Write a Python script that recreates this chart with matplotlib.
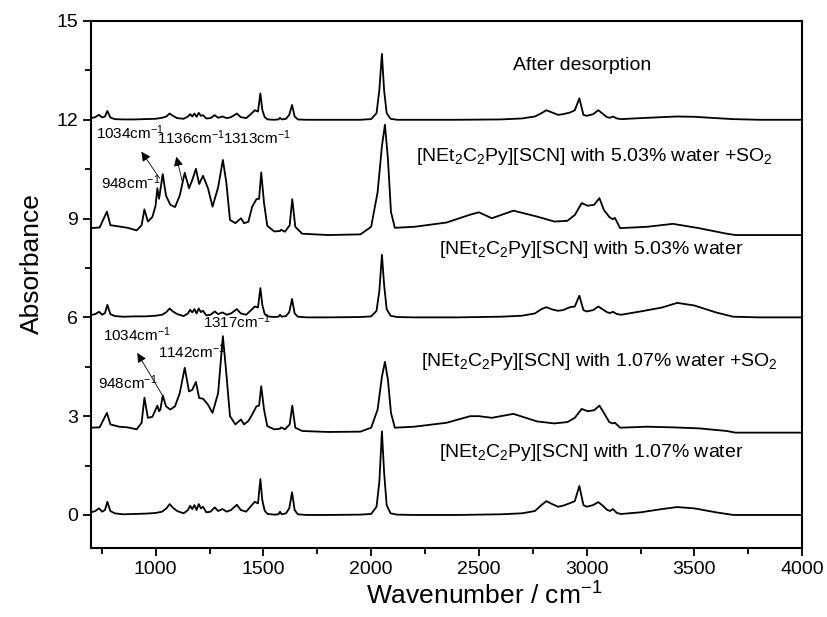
import matplotlib
matplotlib.use("Agg")
import matplotlib.pyplot as plt
from matplotlib.ticker import MultipleLocator

plt.rcParams['font.family'] = ['Liberation Sans', 'DejaVu Sans']
plt.rcParams['mathtext.fontset'] = 'custom'
plt.rcParams['mathtext.rm'] = 'Liberation Sans'
plt.rcParams['mathtext.it'] = 'Liberation Sans:italic'
plt.rcParams['mathtext.bf'] = 'Liberation Sans:bold'

# wavenumber grid shared by the three spectra without SO2
wn_base = [700, 720, 737, 752, 765, 776, 790, 810, 850, 900,
           950, 1000, 1030, 1050, 1065, 1080, 1100, 1130, 1150, 1160,
           1170, 1180, 1190, 1200, 1210, 1220, 1235, 1255, 1274, 1290,
           1310, 1330, 1350, 1377, 1395, 1420, 1440, 1460, 1475, 1486,
           1495, 1506, 1520, 1550, 1570, 1577, 1585, 1605, 1620, 1633,
           1645, 1660, 1700, 1800, 1950, 2000, 2025, 2038, 2050, 2060,
           2072, 2090, 2120, 2200, 2400, 2600, 2700, 2760, 2790, 2813,
           2840, 2867, 2890, 2923, 2945, 2966, 2985, 3000, 3030, 3054,
           3075, 3094, 3108, 3122, 3140, 3160, 3250, 3350, 3420, 3500,
           3600, 3680, 3800, 4000]

abs_107 = [0.08, 0.12, 0.20, 0.10, 0.15, 0.40, 0.12, 0.05, 0.02, 0.03,
           0.04, 0.06, 0.10, 0.20, 0.33, 0.22, 0.12, 0.05, 0.15, 0.28,
           0.18, 0.30, 0.15, 0.33, 0.20, 0.25, 0.08, 0.10, 0.23, 0.12,
           0.18, 0.10, 0.15, 0.31, 0.15, 0.10, 0.25, 0.40, 0.35, 1.09,
           0.45, 0.13, 0.03, 0.01, 0.02, 0.10, 0.02, 0.05, 0.20, 0.69,
           0.15, 0.02, 0.00, 0.00, 0.01, 0.03, 0.25, 1.00, 2.54, 1.30,
           0.30, 0.05, 0.01, 0.00, 0.00, 0.02, 0.05, 0.12, 0.30, 0.42,
           0.33, 0.25, 0.28, 0.36, 0.42, 0.88, 0.30, 0.25, 0.30, 0.39,
           0.28, 0.16, 0.12, 0.18, 0.06, 0.03, 0.08, 0.18, 0.24, 0.20,
           0.08, 0.00, 0.00, 0.00]

abs_503 = [6.07, 6.10, 6.17, 6.08, 6.13, 6.38, 6.10, 6.04, 6.02, 6.03,
           6.03, 6.05, 6.08, 6.16, 6.27, 6.18, 6.10, 6.04, 6.12, 6.23,
           6.15, 6.25, 6.12, 6.27, 6.16, 6.20, 6.06, 6.08, 6.18, 6.10,
           6.15, 6.08, 6.12, 6.25, 6.12, 6.08, 6.20, 6.33, 6.30, 6.89,
           6.38, 6.10, 6.03, 6.01, 6.02, 6.08, 6.02, 6.04, 6.16, 6.56,
           6.12, 6.02, 6.00, 6.00, 6.01, 6.03, 6.20, 6.80, 7.90, 7.00,
           6.25, 6.05, 6.01, 6.00, 6.00, 6.02, 6.05, 6.12, 6.25, 6.31,
           6.24, 6.20, 6.22, 6.31, 6.33, 6.66, 6.22, 6.18, 6.22, 6.33,
           6.24, 6.16, 6.13, 6.17, 6.10, 6.08, 6.18, 6.30, 6.44, 6.36,
           6.15, 6.02, 6.00, 6.00]

abs_desorb = [12.05, 12.08, 12.15, 12.07, 12.10, 12.27, 12.07, 12.02, 12.01, 12.01,
              12.02, 12.03, 12.06, 12.10, 12.19, 12.12, 12.05, 12.03, 12.10, 12.17,
              12.10, 12.19, 12.09, 12.21, 12.12, 12.14, 12.04, 12.05, 12.14, 12.06,
              12.10, 12.05, 12.08, 12.19, 12.08, 12.05, 12.16, 12.29, 12.25, 12.80,
              12.30, 12.08, 12.01, 12.00, 12.01, 12.06, 12.01, 12.03, 12.15, 12.45,
              12.10, 12.01, 12.00, 12.00, 12.00, 12.02, 12.20, 12.90, 14.00, 12.90,
              12.20, 12.03, 12.00, 12.00, 12.00, 12.01, 12.04, 12.10, 12.20, 12.29,
              12.22, 12.15, 12.17, 12.22, 12.29, 12.65, 12.15, 12.12, 12.17, 12.29,
              12.18, 12.08, 12.06, 12.10, 12.04, 12.02, 12.05, 12.08, 12.10, 12.09,
              12.05, 12.02, 12.00, 12.00]

# wavenumber grid shared by the two SO2 spectra
wn_so2 = [700, 740, 774, 790, 830, 870, 912, 935, 948, 964,
          985, 1000, 1008, 1016, 1022, 1033, 1048, 1068, 1090, 1112,
          1135, 1155, 1170, 1187, 1202, 1220, 1243, 1264, 1290, 1312,
          1328, 1345, 1370, 1396, 1410, 1430, 1448, 1468, 1480, 1490,
          1503, 1518, 1550, 1577, 1582, 1600, 1622, 1634, 1648, 1680,
          1800, 1950, 2000, 2030, 2050, 2064, 2078, 2092, 2110, 2200,
          2350, 2460, 2500, 2560, 2660, 2770, 2850, 2910, 2945, 2977,
          3005, 3035, 3059, 3080, 3105, 3120, 3131, 3155, 3280, 3400,
          3520, 3650, 3690, 4000]

so2_503 = [8.71, 8.73, 9.21, 8.80, 8.76, 8.72, 8.64, 8.80, 9.28, 8.91,
           9.05, 9.40, 9.92, 9.60, 9.87, 10.35, 9.70, 9.42, 9.35, 9.70,
           10.39, 9.92, 10.17, 10.51, 10.05, 10.30, 9.92, 9.36, 9.95, 10.78,
           10.10, 8.96, 8.86, 9.01, 8.86, 8.90, 9.36, 9.59, 9.60, 10.40,
           9.47, 8.78, 8.61, 8.62, 8.66, 8.60, 8.80, 9.59, 8.75, 8.54,
           8.50, 8.52, 8.75, 9.80, 11.20, 11.85, 10.80, 9.20, 8.72, 8.75,
           8.88, 9.12, 9.19, 9.01, 9.24, 9.06, 8.91, 8.93, 9.11, 9.47,
           9.39, 9.42, 9.62, 9.26, 9.05, 8.98, 9.02, 8.71, 8.75, 8.84,
           8.71, 8.54, 8.50, 8.50]

so2_107 = [2.65, 2.66, 3.10, 2.75, 2.68, 2.66, 2.60, 2.80, 3.56, 2.95,
           2.98, 3.20, 3.32, 3.15, 3.20, 3.63, 3.30, 3.20, 3.30, 3.70,
           4.47, 3.75, 3.80, 4.04, 3.55, 3.53, 3.35, 3.10, 3.70, 5.43,
           4.30, 3.00, 2.75, 2.90, 2.75, 2.85, 3.05, 3.30, 3.32, 3.91,
           3.20, 2.70, 2.60, 2.62, 2.66, 2.60, 2.75, 3.32, 2.65, 2.55,
           2.52, 2.53, 2.65, 3.20, 4.20, 4.65, 4.10, 3.10, 2.65, 2.68,
           2.80, 3.00, 3.00, 2.95, 3.07, 2.84, 2.78, 2.82, 2.95, 3.22,
           3.15, 3.18, 3.32, 3.10, 2.82, 2.78, 2.80, 2.65, 2.68, 2.66,
           2.63, 2.55, 2.50, 2.50]

IL = r'[NEt$_\mathrm{2}$C$_\mathrm{2}$Py][SCN]'
curve_labels = ['After desorption',
                IL + r' with 5.03% water +SO$_\mathrm{2}$',
                IL + ' with 5.03% water',
                IL + r' with 1.07% water +SO$_\mathrm{2}$',
                IL + ' with 1.07% water']
label_pos = [(2980, 13.66), (3034, 10.88), (3019, 8.05), (3057, 4.67), (3019, 1.89)]

CM = r'cm$^{\mathrm{-1}}$'
peak_labels = ['1034' + CM, '1136' + CM, '1313' + CM, '948' + CM,
               '1317' + CM, '1034' + CM, '1142' + CM, '948' + CM]
peak_label_pos = [(722, 11.62), (1008, 11.45), (1313, 11.45), (745, 10.1),
                  (1218, 5.86), (755, 5.47), (1011, 4.95), (733, 4.02)]
# arrows: (tail, head)
arrows = [((1019, 10.22), (934, 11.03)),
          ((1124, 10.12), (1096, 10.88)),
          ((1029, 3.66), (915, 4.92))]

fig = plt.figure(figsize=(8.27, 6.17), dpi=100)
ax = fig.add_axes([0.110, 0.112, 0.860, 0.854])

for ys in [abs_desorb, abs_503, abs_107]:
    ax.plot(wn_base, ys, color='black', lw=1.3)
for ys in [so2_503, so2_107]:
    ax.plot(wn_so2, ys, color='black', lw=1.3)

for txt, (x, y) in zip(curve_labels, label_pos):
    ax.text(x, y, txt, ha='center', va='center', fontsize=14)
for txt, (x, y) in zip(peak_labels, peak_label_pos):
    ax.text(x, y, txt, ha='left', va='center', fontsize=11)
for tail, head in arrows:
    ax.annotate('', xy=head, xytext=tail,
                arrowprops=dict(arrowstyle='-|>', color='black', lw=0.6,
                                mutation_scale=14, shrinkA=0, shrinkB=0))

ax.set_xlim(700, 4000)
ax.set_ylim(-1, 15)
ax.xaxis.set_major_locator(MultipleLocator(500))
ax.xaxis.set_minor_locator(MultipleLocator(250))
ax.yaxis.set_major_locator(MultipleLocator(3))
ax.yaxis.set_minor_locator(MultipleLocator(1.5))
ax.tick_params(which='major', length=6, width=1.3, labelsize=14, direction='out')
ax.tick_params(which='minor', length=4, width=1.3, direction='out')
for s in ax.spines.values():
    s.set_linewidth(1.5)

ax.set_xlabel(r'Wavenumber / cm$^{\mathrm{-1}}$', fontsize=19)
ax.set_ylabel('Absorbance', fontsize=19)
ax.xaxis.set_label_coords(0.553, -0.066)
ax.yaxis.set_label_coords(-0.066, 0.54)

fig.savefig('out.png', dpi=100)
